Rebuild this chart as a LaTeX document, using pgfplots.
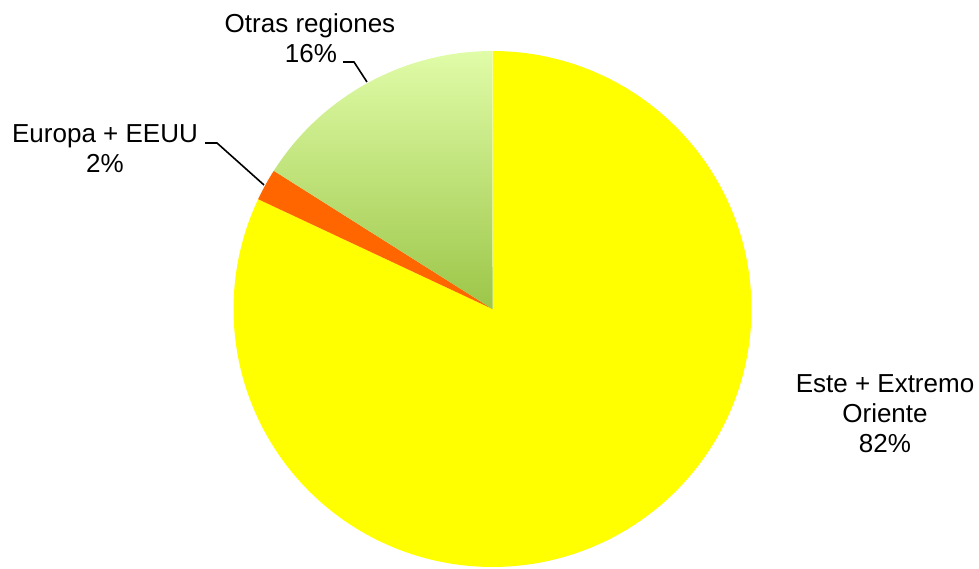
\documentclass[border=0pt]{standalone}
\usepackage{pgfplots}
\usepackage{pgfplotstable}
\pgfplotsset{compat=1.18}
\usepackage{fontspec}
\setmainfont{Liberation Sans}
\definecolor{cEste}{RGB}{255,255,0}
\definecolor{cEuropa}{RGB}{255,102,0}
\definecolor{cOtrasTop}{RGB}{224,252,168}
\definecolor{cOtrasBot}{RGB}{156,198,72}
\pgfplotstableread{
name value
Este 82
Europa 2
Otras 16
}\piedata
\pgfplotstablegetelem{0}{value}\of\piedata \let\vEste\pgfplotsretval
\pgfplotstablegetelem{1}{value}\of\piedata \let\vEuropa\pgfplotsretval
\pgfplotstablegetelem{2}{value}\of\piedata \let\vOtras\pgfplotsretval
\pgfmathsetmacro{\tot}{\vEste+\vEuropa+\vOtras}
% slices go clockwise from 12 o'clock
\pgfmathsetmacro{\aA}{90}
\pgfmathsetmacro{\aB}{90-360*(\vEste/\tot)}
\pgfmathsetmacro{\aC}{\aB-360*(\vEuropa/\tot)}
\pgfmathsetmacro{\aD}{\aC-360*(\vOtras/\tot)}
\begin{document}
\begin{tikzpicture}[x=1pt,y=1pt]
\useasboundingbox (0,0) rectangle (979,569);
\clip (0,0) rectangle (979,569);
\begin{axis}[
  at={(492.5pt,260pt)}, anchor=center,
  width=518pt, height=516pt, scale only axis,
  xmin=-1, xmax=1, ymin=-1, ymax=1,
  hide axis, clip=false,
]
\addplot[draw=none, fill=cEste, domain=\aB:\aA, samples=200, variable=\t]
  ({cos(\t)},{sin(\t)}) -- (axis cs:0,0) -- cycle;
\addplot[draw=none, fill=cEuropa, domain=\aC:\aB, samples=10, variable=\t]
  ({cos(\t)},{sin(\t)}) -- (axis cs:0,0) -- cycle;
\addplot[draw=none, top color=cOtrasTop, bottom color=cOtrasBot, domain=\aD:\aC, samples=60, variable=\t]
  ({cos(\t)},{sin(\t)}) -- (axis cs:0,0) -- cycle;
\end{axis}
% leader lines
\draw[line width=1.6pt] (343,507) -- (354,507) -- (367,487);
\draw[line width=1.6pt] (205,426) -- (217,426) -- (264,384);
% labels
\begin{scope}[every node/.style={anchor=base, inner sep=0pt, font=\fontsize{26}{30}\selectfont}]
\node at (310,536) {Otras regiones};
\node at (311,506) {16\%};
\node at (105,426) {Europa + EEUU};
\node at (105,396) {2\%};
\node at (885,176) {Este + Extremo};
\node at (885,146) {Oriente};
\node at (885,116) {82\%};
\end{scope}
\end{tikzpicture}
\end{document}
